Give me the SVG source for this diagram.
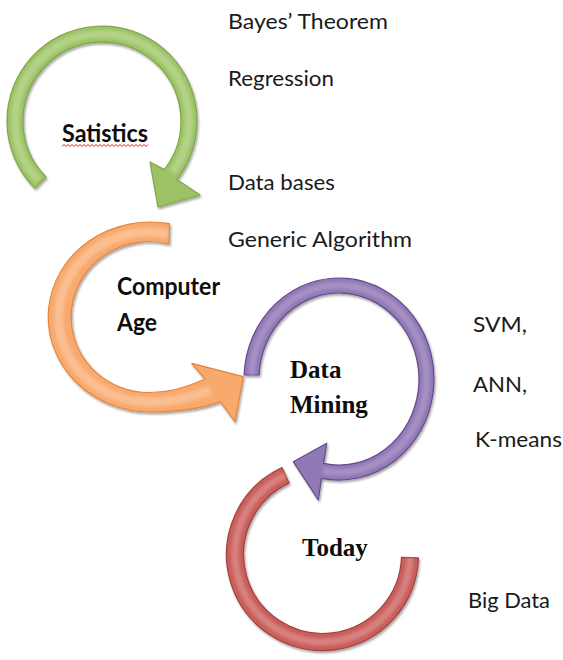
<svg xmlns="http://www.w3.org/2000/svg" width="563" height="660" viewBox="0 0 563 660">
  <defs>
    <filter id="shade" x="-10%" y="-10%" width="130%" height="130%">
      <feDropShadow dx="1.2" dy="2" stdDeviation="1.2" flood-color="#000" flood-opacity="0.35"/>
    </filter>
    <filter id="soft" x="-10%" y="-10%" width="120%" height="120%">
      <feGaussianBlur stdDeviation="1.6"/>
    </filter>
  </defs>
  <style>
    .note { font-family: Lato, "Open Sans", "Liberation Sans", sans-serif; font-size: 22px; fill: #1a1a1a; }
    .stage { font-family: Lato, "Liberation Sans", sans-serif; font-size: 24px; font-weight: 700; fill: #0d0d0d; }
    .stage-serif { font-family: "Liberation Serif", "DejaVu Serif", serif; font-size: 25px; font-weight: 700; fill: #0d0d0d; }
    .arrow { filter: url(#shade); stroke-width: 1.2; stroke-linejoin: round; }
    .shine { fill: none; stroke-linecap: butt; opacity: 0.5; filter: url(#soft); }
    .green { fill: #9dc266; stroke: #7fa648; }
    .orange { fill: #f8aa6e; stroke: #e8843a; }
    .purple { fill: #9078b4; stroke: #654a8f; }
    .red { fill: #c85f5b; stroke: #a3403c; }
    .spell { fill: none; stroke: #e02020; stroke-width: 1; }
  </style>

  <!-- Statistics stage: green clockwise arrow -->
  <g id="statistics">
    <path class="arrow green" d="M34.8 188.2 A95 95 0 1 1 176.9 179.5 L200 195 L158 207 L150 162 L164.3 169.6 A79 79 0 1 0 46.1 176.9 Z"/>
    <path class="shine" stroke="#c9e2a6" stroke-width="8" d="M38.4 180.3 A87 87 0 1 1 172.4 172.1"/>
    <text class="stage" x="62" y="142" textLength="86" lengthAdjust="spacingAndGlyphs">Satistics</text>
    <polyline class="spell" points="62,146.5 64,144.5 66,146.5 68,144.5 70,146.5 72,144.5 74,146.5 76,144.5 78,146.5 80,144.5 82,146.5 84,144.5 86,146.5 88,144.5 90,146.5 92,144.5 94,146.5 96,144.5 98,146.5 100,144.5 102,146.5 104,144.5 106,146.5 108,144.5 110,146.5 112,144.5 114,146.5 116,144.5 118,146.5 120,144.5 122,146.5 124,144.5 126,146.5 128,144.5 130,146.5 132,144.5 134,146.5 136,144.5 138,146.5 140,144.5 142,146.5 144,144.5 146,146.5 148,144.5"/>
  </g>

  <!-- Computer Age stage: orange counter-clockwise arrow -->
  <g id="computer-age">
    <path class="arrow orange" d="M169.5 223.7 A102 95 0 1 0 150 412 C178 412 205 408 220 401.5 L235 421.7 L243.3 376.7 L191.7 363.3 L205 379 C188 387 168 392.5 150 392.5 A78 75.5 0 1 1 169 244 Z"/>
    <path class="shine" stroke="#fcd3b2" stroke-width="9" d="M168 234 A90 85 0 1 0 150 402 C172 402 190 398 210 390"/>
    <text class="stage" x="117" y="295" textLength="103" lengthAdjust="spacingAndGlyphs">Computer</text>
    <text class="stage" x="117" y="331" textLength="40" lengthAdjust="spacingAndGlyphs">Age</text>
  </g>

  <!-- Data Mining stage: purple clockwise arrow -->
  <g id="data-mining">
    <path class="arrow purple" d="M244.07 375 A95 101 0 1 1 321.5 478.3 L318.3 500 L293.3 461.7 L326.7 443.3 L323.6 463.4 A80 86 0 1 0 259.1 375 Z"/>
    <path class="shine" stroke="#b9a8d3" stroke-width="7" d="M251.6 375 A87.5 93.5 0 1 1 323 470.8"/>
    <text class="stage-serif" x="290" y="378">Data</text>
    <text class="stage-serif" x="290" y="413">Mining</text>
  </g>

  <!-- Today stage: red open ring -->
  <g id="today">
    <path class="arrow red" d="M281.9 467.5 A96 96 0 1 0 418.4 557.9 L401.5 557.3 A79 79 0 1 1 289.1 482.9 Z"/>
    <path class="shine" stroke="#e6a3a0" stroke-width="7" d="M285.5 475.2 A87.5 87.5 0 1 0 410 557.6"/>
    <text class="stage-serif" x="302" y="556">Today</text>
  </g>

  <!-- Methods listed beside each stage -->
  <g id="notes-statistics">
    <text class="note" x="228" y="29" textLength="160" lengthAdjust="spacingAndGlyphs">Bayes’ Theorem</text>
    <text class="note" x="228" y="86" textLength="106" lengthAdjust="spacingAndGlyphs">Regression</text>
  </g>
  <g id="notes-computer-age">
    <text class="note" x="228" y="190" textLength="107" lengthAdjust="spacingAndGlyphs">Data bases</text>
    <text class="note" x="228" y="247" textLength="184" lengthAdjust="spacingAndGlyphs">Generic Algorithm</text>
  </g>
  <g id="notes-data-mining">
    <text class="note" x="473" y="332" textLength="54" lengthAdjust="spacingAndGlyphs">SVM,</text>
    <text class="note" x="473" y="392" textLength="54" lengthAdjust="spacingAndGlyphs">ANN,</text>
    <text class="note" x="475" y="447" textLength="87" lengthAdjust="spacingAndGlyphs">K-means</text>
  </g>
  <g id="notes-today">
    <text class="note" x="468" y="608" textLength="82" lengthAdjust="spacingAndGlyphs">Big Data</text>
  </g>
</svg>
